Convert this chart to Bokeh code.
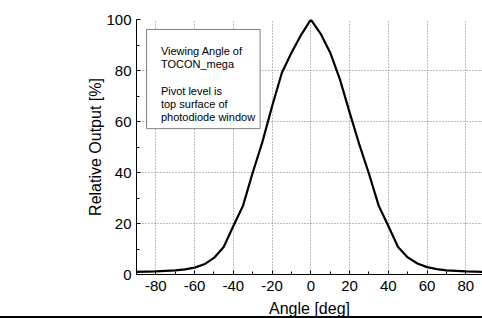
from bokeh.plotting import figure
from bokeh.models import Range1d, Label, FixedTicker, Div, BoxAnnotation, Title
from bokeh.layouts import column
from bokeh.embed import file_html
from bokeh.resources import INLINE

angle = [-90, -85, -80, -75, -70, -65, -60, -55, -50, -45, -40, -35, -30, -25, -20, -15, -10, -5,
         0, 5, 10, 15, 20, 25, 30, 35, 40, 45, 50, 55, 60, 65, 70, 75, 80, 85, 90]
output = [1.0, 1.1, 1.2, 1.4, 1.6, 2.0, 2.7, 4.0, 6.5, 10.8, 19.0, 27.0, 40.0, 52.0, 66.0, 79.0, 87.0, 94.0,
          100.0, 94.5, 87.0, 76.5, 63.6, 51.0, 39.5, 27.0, 19.0, 10.8, 6.7, 4.3, 2.9, 2.1, 1.6, 1.4, 1.2, 1.1, 1.0]
x_ticks = [-80, -60, -40, -20, 0, 20, 40, 60, 80]
x_minor = [-90, -70, -50, -30, -10, 10, 30, 50, 70, 90]
y_ticks = [0, 20, 40, 60, 80, 100]
y_minor = [10, 30, 50, 70, 90]
x_title = "Angle [deg]"
y_title = "Relative Output [%]"
note = "Viewing Angle of\nTOCON_mega\n\nPivot level is\ntop surface of\nphotodiode window"

FONT = "Liberation Sans"

p = figure(width=482, height=322, output_backend="svg", toolbar_location=None,
           x_range=Range1d(-90, 88.6), y_range=Range1d(0, 100),
           min_border_left=136, min_border_right=0, min_border_top=19, min_border_bottom=48)
p.outline_line_color = None
p.background_fill_color = "white"

p.line(angle, output, line_color="black", line_width=2.2)

xt = FixedTicker(ticks=x_ticks, minor_ticks=x_minor)
yt = FixedTicker(ticks=y_ticks, minor_ticks=y_minor)
p.xaxis.ticker = xt
p.yaxis.ticker = yt
p.xgrid.ticker = xt
p.ygrid.ticker = yt
p.xaxis.major_label_overrides = {t: str(t) for t in x_ticks}
p.yaxis.major_label_overrides = {t: str(t) for t in y_ticks}

for ax in (p.xaxis, p.yaxis):
    ax.major_tick_in = 4
    ax.major_tick_out = 0
    ax.minor_tick_in = 3
    ax.minor_tick_out = 0
    ax.axis_line_color = "black"
    ax.major_tick_line_color = "black"
    ax.minor_tick_line_color = "black"
    ax.major_label_text_font = FONT
    ax.major_label_text_font_size = "15px"
    ax.major_label_text_color = "black"
    ax.axis_label_text_font = FONT
    ax.axis_label_text_font_style = "normal"
    ax.axis_label_text_color = "black"
    ax.axis_label_text_font_size = "16px"

p.xaxis.axis_label = x_title
p.xaxis.major_label_standoff = 6
p.xaxis.axis_label_standoff = 6
p.yaxis.major_label_standoff = 5

for g in (p.xgrid, p.ygrid):
    g.grid_line_color = "#7a7a7a"
    g.grid_line_dash = "1 2"
    g.grid_line_width = 1

ytitle = Title(text=y_title, align="center", offset=-10, standoff=0,
               text_font=FONT, text_font_size="16px", text_font_style="normal",
               text_color="black")
p.add_layout(ytitle, "left")

box = BoxAnnotation(left=-84.8, right=-26.2, top=96.1, bottom=57.2,
                    fill_color="white", fill_alpha=1.0,
                    line_color="#808080", line_width=1, line_alpha=1.0)
p.add_layout(box)

lab = Label(x=-77.4, y=89.9, text=note, text_font=FONT, text_font_size="11px",
            text_color="black", text_align="left", text_baseline="top", text_line_height=1.1)
p.add_layout(lab)

bar = Div(text="", width=482, height=2, margin=(-6, 0, 0, 0), styles={"background-color": "black"})

layout = column(p, bar, spacing=0)
open("out.html", "w").write(file_html(layout, INLINE))
